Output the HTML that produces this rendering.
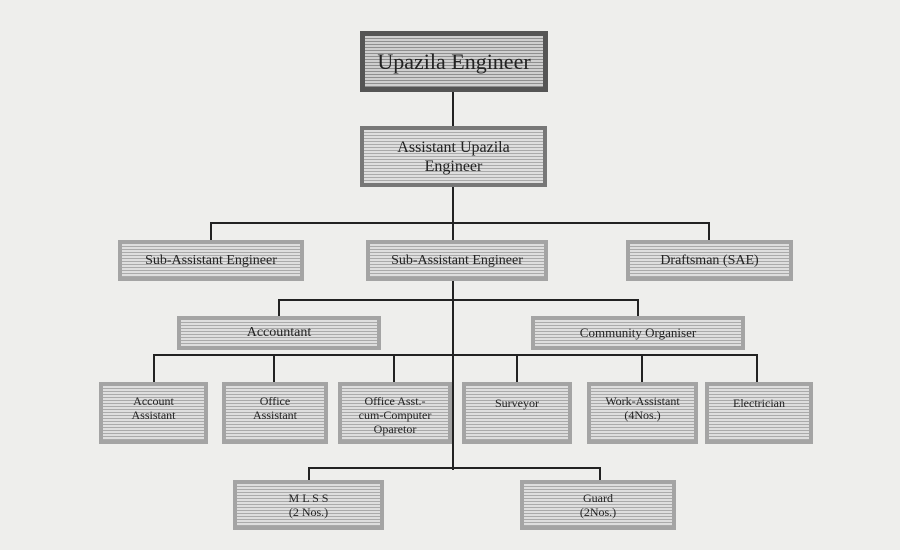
<!DOCTYPE html>
<html><head><style>
body{margin:0;width:900px;height:550px;background:#eeeeec;position:relative;overflow:hidden;font-family:"Liberation Serif",serif;}
.b{position:absolute;box-sizing:border-box;border:4px solid #a4a4a4;background:repeating-linear-gradient(#dedede 0 2px,#aaaaaa 2px 3px);display:flex;align-items:center;justify-content:center;text-align:center;color:#222;font-size:12px;line-height:14px;}
.l{position:absolute;background:#222;}
</style></head><body>
<div class="l" style="left:452px;top:90px;width:2px;height:380px"></div>
<div class="l" style="left:210px;top:222px;width:500px;height:2px"></div>
<div class="l" style="left:210px;top:222px;width:2px;height:20px"></div>
<div class="l" style="left:708px;top:222px;width:2px;height:20px"></div>
<div class="l" style="left:278px;top:299px;width:361px;height:2px"></div>
<div class="l" style="left:278px;top:299px;width:2px;height:18px"></div>
<div class="l" style="left:637px;top:299px;width:2px;height:18px"></div>
<div class="l" style="left:153px;top:354px;width:605px;height:2px"></div>
<div class="l" style="left:153px;top:354px;width:2px;height:30px"></div>
<div class="l" style="left:273px;top:354px;width:2px;height:30px"></div>
<div class="l" style="left:393px;top:354px;width:2px;height:30px"></div>
<div class="l" style="left:516px;top:354px;width:2px;height:30px"></div>
<div class="l" style="left:641px;top:354px;width:2px;height:30px"></div>
<div class="l" style="left:756px;top:354px;width:2px;height:30px"></div>
<div class="l" style="left:308px;top:467px;width:293px;height:2px"></div>
<div class="l" style="left:308px;top:467px;width:2px;height:14px"></div>
<div class="l" style="left:599px;top:467px;width:2px;height:14px"></div>

<div class="b" style="left:360px;top:31px;width:188px;height:61px;border-color:#555;border-width:5px;font-size:22px;line-height:24px;background:repeating-linear-gradient(#cfcfcf 0 2px,#8f8f8f 2px 3px)">Upazila Engineer</div>
<div class="b" style="left:360px;top:126px;width:187px;height:61px;border-color:#777;font-size:16px;line-height:19px">Assistant Upazila<br>Engineer</div>
<div class="b" style="left:118px;top:240px;width:186px;height:41px;font-size:14px">Sub-Assistant Engineer</div>
<div class="b" style="left:366px;top:240px;width:182px;height:41px;font-size:14px">Sub-Assistant Engineer</div>
<div class="b" style="left:626px;top:240px;width:167px;height:41px;font-size:14px">Draftsman (SAE)</div>
<div class="b" style="left:177px;top:316px;width:204px;height:34px;font-size:14px">Accountant</div>
<div class="b" style="left:531px;top:316px;width:214px;height:34px;font-size:13px">Community Organiser</div>
<div class="b" style="left:99px;top:382px;width:109px;height:62px;align-items:flex-start;padding-top:8px">Account<br>Assistant</div>
<div class="b" style="left:222px;top:382px;width:106px;height:62px;align-items:flex-start;padding-top:8px">Office<br>Assistant</div>
<div class="b" style="left:338px;top:382px;width:114px;height:62px;align-items:flex-start;padding-top:8px">Office Asst.-<br>cum-Computer<br>Oparetor</div>
<div class="b" style="left:462px;top:382px;width:110px;height:62px;align-items:flex-start;padding-top:10px">Surveyor</div>
<div class="b" style="left:587px;top:382px;width:111px;height:62px;align-items:flex-start;padding-top:8px">Work-Assistant<br>(4Nos.)</div>
<div class="b" style="left:705px;top:382px;width:108px;height:62px;align-items:flex-start;padding-top:10px">Electrician</div>
<div class="b" style="left:233px;top:480px;width:151px;height:50px">M L S S<br>(2 Nos.)</div>
<div class="b" style="left:520px;top:480px;width:156px;height:50px">Guard<br>(2Nos.)</div>
</body></html>
